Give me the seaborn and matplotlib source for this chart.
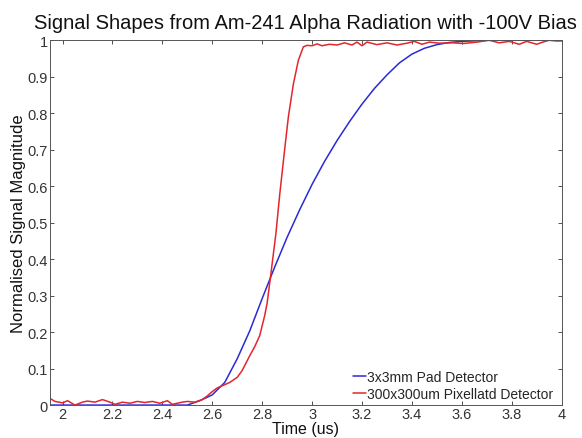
import numpy as np
import pandas as pd
import matplotlib
matplotlib.use("Agg")
import matplotlib.pyplot as plt
import seaborn as sns

# 3x3mm pad detector (smooth)
pad_t = [1.95, 2.50, 2.55, 2.60, 2.65, 2.70, 2.75, 2.80, 2.85, 2.90, 2.95, 3.00,
         3.05, 3.10, 3.15, 3.20, 3.25, 3.30, 3.35, 3.40, 3.45, 3.50, 3.55, 3.60, 3.70, 4.00]
pad_v = [0.0, 0.0, 0.012, 0.028, 0.062, 0.127, 0.203, 0.292, 0.378, 0.46, 0.535, 0.605,
         0.668, 0.725, 0.777, 0.825, 0.868, 0.905, 0.938, 0.962, 0.978, 0.988, 0.994, 0.997, 1.0, 1.0]

# 300x300um pixellated detector (noisy)
pix_t = [1.95, 1.97, 2.00, 2.02, 2.05, 2.08, 2.10, 2.13, 2.16, 2.19, 2.21, 2.24,
         2.27, 2.30, 2.33, 2.36, 2.39, 2.42, 2.44, 2.48, 2.50, 2.53, 2.56, 2.58,
         2.60, 2.62, 2.64, 2.67, 2.70, 2.72, 2.75, 2.77, 2.79, 2.81, 2.82, 2.835,
         2.855, 2.87, 2.89, 2.905, 2.925, 2.945, 2.965, 2.98, 3.00, 3.02, 3.04, 3.07,
         3.10, 3.13, 3.16, 3.18, 3.20, 3.22, 3.26, 3.30, 3.34, 3.38, 3.41, 3.44,
         3.47, 3.51, 3.565, 3.605, 3.66, 3.71, 3.75, 3.79, 3.83, 3.86, 3.90, 3.925,
         3.95, 3.98, 4.00]
pix_v = [0.018, 0.010, 0.006, 0.012, 0.0, 0.008, 0.011, 0.008, 0.015, 0.008, 0.002, 0.008,
         0.005, 0.010, 0.007, 0.010, 0.005, 0.012, 0.002, 0.008, 0.010, 0.008, 0.015, 0.025,
         0.037, 0.047, 0.053, 0.062, 0.076, 0.095, 0.135, 0.16, 0.19, 0.245, 0.28, 0.36,
         0.47, 0.575, 0.70, 0.79, 0.88, 0.945, 0.982, 0.986, 0.985, 0.99, 0.985, 0.989,
         0.987, 0.993, 0.987, 0.995, 0.985, 0.995, 0.988, 0.993, 0.987, 0.992, 0.997, 0.989,
         0.995, 0.992, 0.993, 0.991, 0.995, 1.0, 0.993, 0.997, 0.989, 0.997, 0.989, 0.995,
         1.0, 0.998, 0.998]

xticks = [2, 2.2, 2.4, 2.6, 2.8, 3, 3.2, 3.4, 3.6, 3.8, 4]
xtick_labels = ["2", "2.2", "2.4", "2.6", "2.8", "3", "3.2", "3.4", "3.6", "3.8", "4"]
yticks = [0, 0.1, 0.2, 0.3, 0.4, 0.5, 0.6, 0.7, 0.8, 0.9, 1]
ytick_labels = ["0", "0.1", "0.2", "0.3", "0.4", "0.5", "0.6", "0.7", "0.8", "0.9", "1"]

sns.set_style("ticks")
plt.rcParams['font.family'] = ['Liberation Sans', 'DejaVu Sans']

df_pad = pd.DataFrame({'t': pad_t, 'v': pad_v})
df_pix = pd.DataFrame({'t': pix_t, 'v': pix_v})

fig = plt.figure(figsize=(5.82, 4.39), dpi=100)
ax = fig.add_axes([0.086, 0.075, 0.879, 0.831])

sns.lineplot(data=df_pad, x='t', y='v', color='#2a2ad6', linewidth=1.1,
             label='3x3mm Pad Detector', ax=ax)
sns.lineplot(data=df_pix, x='t', y='v', color='#e3262b', linewidth=1.1,
             label='300x300um Pixellatd Detector', ax=ax)

ax.set_xlim(1.95, 4)
ax.set_ylim(0, 1)
ax.set_xticks(xticks)
ax.set_xticklabels(xtick_labels)
ax.set_yticks(yticks)
ax.set_yticklabels(ytick_labels)
ax.tick_params(direction='in', length=3, width=0.6, top=True, right=True,
               labelsize=10.5, colors='#333333', pad=1.5)
for s in ax.spines.values():
    s.set_color('#555555')
    s.set_linewidth(0.7)

ax.set_xlabel('Time (us)', fontsize=11.5, color='#111111', labelpad=0)
ax.set_ylabel('Normalised Signal Magnitude', fontsize=12, color='#111111', labelpad=1)
ax.set_title('Signal Shapes from Am-241 Alpha Radiation with -100V Bias',
             fontsize=14.5, color='#111111', pad=9)

ax.legend(loc='lower right', bbox_to_anchor=(1.0, -0.011), frameon=False,
          fontsize=10, handlelength=1.0, handletextpad=0.05, labelspacing=0.23,
          borderaxespad=0.2)

fig.savefig('out.png', dpi=100)
